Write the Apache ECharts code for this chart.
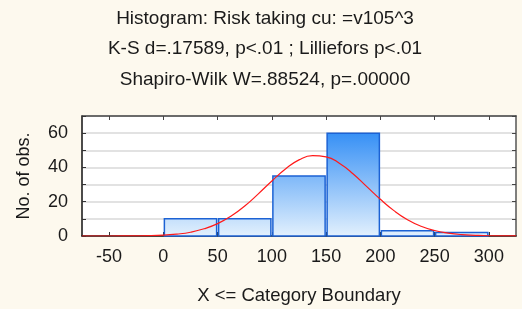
<!DOCTYPE html>
<html>
<head>
<meta charset="utf-8">
<script src="https://cdn.jsdelivr.net/npm/echarts@6/dist/echarts.min.js"></script>
<style>
  html, body { margin: 0; padding: 0; background: #fdf9ee; }
  #chart { width: 522px; height: 309px; }
</style>
</head>
<body>
<div id="chart"></div>
<script>
// histogram bins (category boundaries) and counts
var binStart = [0, 50, 100, 150, 200, 250];
var binEnd = [50, 100, 150, 200, 250, 300];
var counts = [10, 10, 35, 60, 3, 2];

// expected normal curve
var curveX = [-75, -50, -25, 0, 12.5, 25, 37.5, 50, 62.5, 75, 87.5, 100, 112.5, 125, 137.5, 150, 162.5, 175, 187.5, 200, 212.5, 225, 237.5, 250, 262.5, 275, 287.5, 300, 325];
var curveY = [0, 0.01, 0.1, 0.5, 1.1, 2.2, 4.2, 7.2, 11.6, 17.5, 24.6, 32.1, 39.1, 44.4, 46.9, 46.2, 42.3, 36.2, 28.8, 21.4, 14.8, 9.5, 5.7, 3.2, 1.7, 0.8, 0.4, 0.15, 0.02];

var xTicks = [-50, 0, 50, 100, 150, 200, 250, 300];
var titleLines = [
  'Histogram: Risk taking cu: =v105^3',
  'K-S d=.17589, p<.01 ; Lilliefors p<.01',
  'Shapiro-Wilk W=.88524, p=.00000'
];

var FONT = '"Liberation Sans", Arial, sans-serif';
var yMax = 70;

var chart = echarts.init(document.getElementById('chart'));

var option = {
  backgroundColor: '#fdf9ee',
  animation: false,
  textStyle: { fontFamily: FONT },
  title: titleLines.map(function (t, i) {
    return {
      text: t,
      left: 265,
      textAlign: 'center',
      top: 9 + i * 30.5,
      padding: 0,
      textStyle: { fontFamily: FONT, fontSize: 19, fontWeight: 'normal', color: '#1a1a1a' }
    };
  }),
  grid: { left: 82, right: 6, top: 116, bottom: 73, show: true, backgroundColor: '#ffffff', borderWidth: 0 },
  xAxis: [{
    type: 'value',
    min: -75,
    max: 325,
    name: 'X <= Category Boundary',
    nameLocation: 'middle',
    nameGap: 50,
    nameTextStyle: { fontFamily: FONT, fontSize: 18.5, color: '#1a1a1a' },
    axisLine: { onZero: false, lineStyle: { color: '#111', width: 1.5 } },
    axisTick: { inside: true, length: 4, customValues: xTicks, lineStyle: { color: '#333' } },
    axisLabel: { customValues: xTicks, margin: 12, fontFamily: FONT, fontSize: 18, color: '#1a1a1a' },
    splitLine: { show: false }
  }, {
    type: 'value',
    position: 'top',
    min: -75,
    max: 325,
    axisLine: { show: true, onZero: false, lineStyle: { color: '#444', width: 1.5 } },
    axisTick: { inside: true, length: 4, customValues: xTicks, lineStyle: { color: '#444' } },
    axisLabel: { show: false },
    splitLine: { show: false }
  }],
  yAxis: [{
    type: 'value',
    min: 0,
    max: yMax,
    interval: 10,
    name: 'No. of obs.',
    nameLocation: 'middle',
    nameGap: 49,
    nameTextStyle: { fontFamily: FONT, fontSize: 18, color: '#1a1a1a' },
    axisLine: { show: true, onZero: false, lineStyle: { color: '#111', width: 1.5 } },
    axisTick: { show: true, inside: true, length: 4, lineStyle: { color: '#333' } },
    axisLabel: {
      margin: 14, fontFamily: FONT, fontSize: 18, color: '#1a1a1a',
      formatter: function (v) { return v % 20 === 0 ? String(v) : ''; }
    },
    splitLine: { show: true, lineStyle: { color: '#d9d9d9', width: 1.5 } }
  }, {
    type: 'value',
    position: 'right',
    min: 0,
    max: yMax,
    interval: 10,
    axisLine: { show: true, onZero: false, lineStyle: { color: '#555', width: 1.5 } },
    axisTick: { show: true, inside: true, length: 4, lineStyle: { color: '#444' } },
    axisLabel: { show: false },
    splitLine: { show: false }
  }],
  series: [{
    type: 'custom',
    xAxisIndex: 0,
    yAxisIndex: 0,
    data: binStart.map(function (s, i) { return [s, binEnd[i], counts[i]]; }),
    encode: { x: [0, 1], y: 2 },
    renderItem: function (params, api) {
      var p0 = api.coord([api.value(0), api.value(2)]);
      var p1 = api.coord([api.value(1), 0]);
      var yTop = api.coord([0, yMax])[1];
      return {
        type: 'rect',
        shape: { x: p0[0] + 1, y: p0[1], width: p1[0] - p0[0] - 2, height: p1[1] - p0[1] },
        style: {
          fill: new echarts.graphic.LinearGradient(0, yTop, 0, p1[1], [
            { offset: 0, color: '#1a80f4' },
            { offset: 1, color: '#e2f0fd' }
          ], true),
          stroke: '#1c62d4',
          lineWidth: 1.5
        }
      };
    }
  }, {
    type: 'line',
    xAxisIndex: 0,
    yAxisIndex: 0,
    data: curveX.map(function (x, i) { return [x, curveY[i]]; }),
    smooth: true,
    showSymbol: false,
    z: 5,
    lineStyle: { color: '#ff1a1a', width: 1.2 }
  }]
};

chart.setOption(option);
</script>
</body>
</html>
